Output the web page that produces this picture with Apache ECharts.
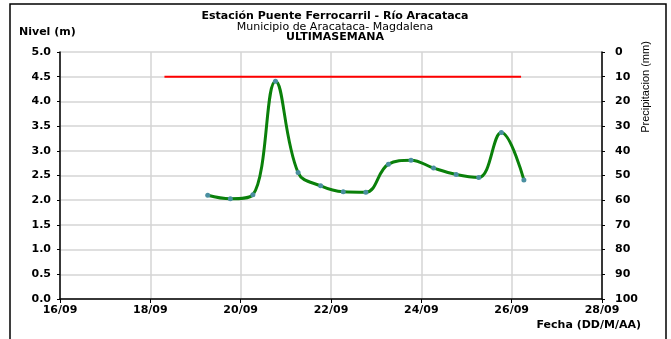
<!DOCTYPE html>
<html>
<head>
<meta charset="utf-8">
<script src="https://cdn.jsdelivr.net/npm/echarts@6/dist/echarts.min.js"></script>
<style>html,body{margin:0;padding:0;background:#fff}#c{width:671px;height:339px}</style>
</head>
<body>
<div id="c"></div>
<script>
// Observation times (DD/MM HH:MM) and river level (m)
const fechas = ["19/09 06:30","19/09 18:30","20/09 06:30","20/09 18:30","21/09 06:30","21/09 18:30","22/09 06:30","22/09 18:30","23/09 06:30","23/09 18:30","24/09 06:30","24/09 18:30","25/09 06:30","25/09 18:30","26/09 06:30"];
const nivel = [2.10, 2.03, 2.11, 4.41, 2.56, 2.29, 2.17, 2.16, 2.73, 2.81, 2.65, 2.52, 2.46, 3.37, 2.41];
// Alert threshold line (m) start/end times
const alertaFechas = ["18/09 07:30","26/09 05:00"];
const alertaNivel = [4.5, 4.5];
const xTicks = [16, 18, 20, 22, 24, 26, 28];

function toDay(s){
  const [d, t] = s.split(' ');
  const day = parseInt(d.split('/')[0], 10);
  const [h, m] = t.split(':').map(Number);
  return day + (h + m/60)/24;
}
const nivelData = fechas.map((f,i)=>[toDay(f), nivel[i]]);
const alertaData = alertaFechas.map((f,i)=>[toDay(f), alertaNivel[i]]);

const FONT = '"DejaVu Sans", Verdana, sans-serif';
const FONT2 = '"Liberation Sans", Arial, sans-serif';
const chart = echarts.init(document.getElementById('c'));
chart.setOption({
  animation:false,
  textStyle:{fontFamily:FONT},
  title:{
    left:330, top:6, textAlign:'center',
    text:'{a|Estación Puente Ferrocarril - Río Aracataca}\n{b|Municipio de Aracataca- Magdalena}\n{a|ULTIMASEMANA}',
    textStyle:{rich:{
      a:{fontFamily:FONT,fontSize:11,fontWeight:'bold',color:'#000',lineHeight:10.5},
      b:{fontFamily:FONT,fontSize:11,fontWeight:'normal',color:'#000',lineHeight:10.5}
    }}
  },
  grid:{left:60,right:69,top:52,bottom:40},
  xAxis:{
    type:'value', min:xTicks[0], max:xTicks[xTicks.length-1], interval:2,
    axisLine:{lineStyle:{color:'#000',width:1.5}},
    axisTick:{show:true,length:4,lineStyle:{color:'#000'}},
    axisLabel:{color:'#000',fontWeight:'bold',fontSize:11,fontFamily:FONT,margin:6,
      formatter:v=>String(v).padStart(2,'0')+'/09'},
    splitLine:{show:true,lineStyle:{color:'#d4d4d4',width:1.5}}
  },
  yAxis:[{
    type:'value', min:0, max:5, interval:0.5,
    axisLine:{show:true,lineStyle:{color:'#000',width:1.5}},
    axisTick:{show:true,length:3,lineStyle:{color:'#000'}},
    axisLabel:{color:'#000',fontWeight:'bold',fontSize:11,fontFamily:FONT,margin:9,
      formatter:v=>v.toFixed(1)},
    splitLine:{show:true,lineStyle:{color:'#d4d4d4',width:1.5}}
  },{
    type:'value', min:0, max:100, interval:10, inverse:true, position:'right',
    axisLine:{show:true,lineStyle:{color:'#000',width:1.5}},
    axisTick:{show:true,length:3,lineStyle:{color:'#000'}},
    axisLabel:{color:'#000',fontWeight:'bold',fontSize:11,fontFamily:FONT,margin:13},
    splitLine:{show:false}
  }],
  series:[{
    type:'line', data:alertaData, symbol:'none',
    lineStyle:{color:'#ff0000',width:2}, z:2
  },{
    type:'line', data:nivelData, smooth:0.4, symbol:'circle', symbolSize:5,
    itemStyle:{color:'#4a8fa0'},
    lineStyle:{color:'#0a800a',width:3}, z:3
  }],
  graphic:[
    {type:'rect', shape:{x:10,y:4,width:656,height:345}, style:{fill:'none',stroke:'#000',lineWidth:1.5}, silent:true},
    {type:'text', x:19, y:27, style:{text:'Nivel (m)', font:'bold 11px '+FONT, fill:'#000'}},
    {type:'text', x:641, y:320, style:{text:'Fecha (DD/M/AA)', font:'bold 11px '+FONT, fill:'#000', textAlign:'right'}},
    {type:'text', x:646, y:87, rotation:Math.PI/2, style:{text:'Precipitacion (mm)', font:'11px '+FONT2, fill:'#000', textAlign:'center', textVerticalAlign:'middle'}}
  ]
});
</script>
</body>
</html>
